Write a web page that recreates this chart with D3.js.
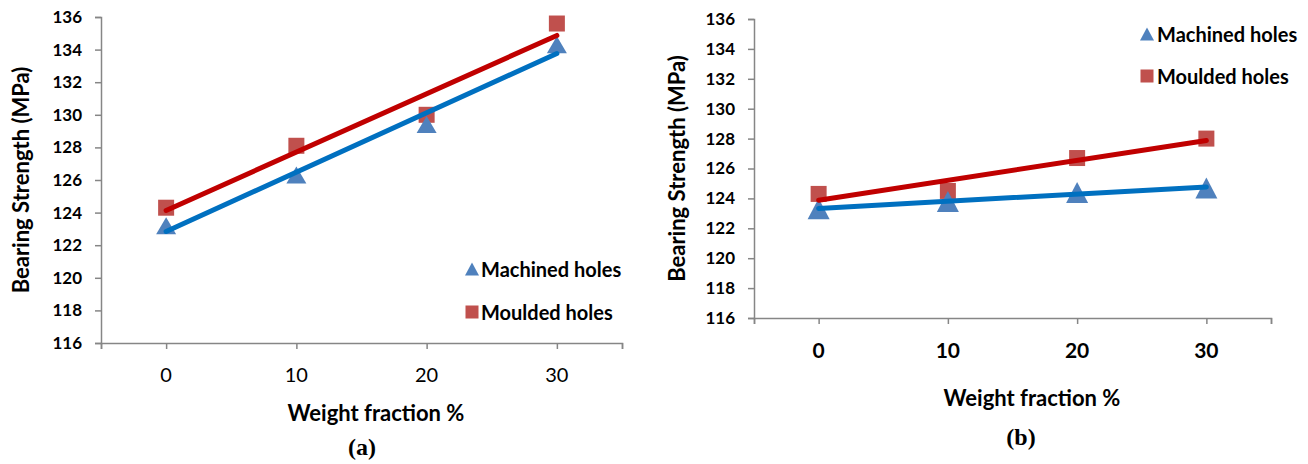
<!DOCTYPE html>
<html>
<head>
<meta charset="utf-8">
<script src="https://cdn.jsdelivr.net/npm/d3@7"></script>
<style>
  html, body { margin: 0; padding: 0; background: #fff; }
  svg { display: block; }
  text { font-family: Lato, "Open Sans", sans-serif; fill: #000; }
</style>
</head>
<body>
<svg id="chart" width="1308" height="464"></svg>
<script>
// Weight fraction of filler (%) on the horizontal axis
const weightFractions = [0, 10, 20, 30];
const xTickValues = [0, 10, 20, 30];
const yTickValues = [116, 118, 120, 122, 124, 126, 128, 130, 132, 134, 136];

// Bearing strength (MPa), panel (a)
const machinedA = [123.2, 126.3, 129.4, 134.3];
const mouldedA  = [124.3, 128.1, 130.0, 135.6];

// Bearing strength (MPa), panel (b)
const machinedB = [123.3, 123.8, 124.4, 124.7];
const mouldedB  = [124.3, 124.5, 126.7, 128.0];

const seriesNames = ["Machined holes", "Moulded holes"];

const svg = d3.select("#chart");

// least-squares linear fit, as used for the trendlines
function linearFit(xs, ys) {
  const mx = d3.mean(xs), my = d3.mean(ys);
  const sxy = d3.sum(xs, (x, i) => (x - mx) * (ys[i] - my));
  const sxx = d3.sum(xs, x => (x - mx) * (x - mx));
  const slope = sxy / sxx;
  return { slope, intercept: my - slope * mx };
}

const panels = [
  {
    machined: machinedA, moulded: mouldedA,
    xr: [101, 622], yr: [343, 17],
    xTick: { bold: false, size: 20, y: 374 },
    tri: [20, 17], sq: 16,
    yTitleX: 20, xTitle: { x: 376, y: 412 },
    caption: { text: "(a)", x: 362, y: 447 },
    legend: { x: 472, textX: 481, y: [269, 312] }
  },
  {
    machined: machinedB, moulded: mouldedB,
    xr: [754, 1271], yr: [318, 19],
    xTick: { bold: true, size: 21, y: 349 },
    tri: [22, 21], sq: 16,
    yTitleX: 676, xTitle: { x: 1032, y: 397 },
    caption: { text: "(b)", x: 1021, y: 437 },
    legend: { x: 1147, textX: 1157, y: [34, 76] }
  }
];

const triColor = "#4F81BD", sqColor = "#C0504D";
const lineBlue = "#0070C0", lineRed = "#C00000";
const axisColor = "#868686";

function trianglePath(w, h) {
  return `M0,${-h / 2}L${w / 2},${h / 2}L${-w / 2},${h / 2}Z`;
}

panels.forEach(p => {
  const x = d3.scaleLinear().domain([-5, 35]).range(p.xr);
  const y = d3.scaleLinear().domain([116, 136]).range(p.yr);
  const g = svg.append("g");

  // y axis
  const yAxis = g.append("g")
    .attr("transform", `translate(${p.xr[0]},0)`)
    .call(d3.axisLeft(y).tickValues(yTickValues).tickSize(6).tickPadding(13).tickFormat(d3.format("d")));
  yAxis.select(".domain").attr("stroke", axisColor).attr("stroke-width", 1.5);
  yAxis.selectAll(".tick line").attr("stroke", axisColor).attr("stroke-width", 1.5);
  yAxis.selectAll(".tick text")
    .style("font-family", "Lato, sans-serif").style("font-size", "17px").style("font-weight", "bold")
    .attr("fill", "#000");

  // x axis
  const xAxis = g.append("g")
    .attr("transform", `translate(0,${p.yr[0]})`)
    .call(d3.axisBottom(x).tickValues([-5].concat(xTickValues, [35])).tickSize(6).tickFormat(""));
  xAxis.select(".domain").attr("stroke", axisColor).attr("stroke-width", 1.5);
  xAxis.selectAll(".tick line").attr("stroke", axisColor).attr("stroke-width", 1.5);
  xAxis.selectAll(".tick text").remove();

  g.selectAll(".xlab").data(xTickValues).join("text")
    .attr("x", d => x(d)).attr("y", p.xTick.y)
    .attr("text-anchor", "middle").attr("dominant-baseline", "central")
    .style("font-size", p.xTick.size + "px").style("font-weight", p.xTick.bold ? "bold" : "normal")
    .text(d => d);

  // titles
  g.append("text")
    .attr("transform", `translate(${p.yTitleX},${(p.yr[0] + p.yr[1]) / 2}) rotate(-90)`)
    .attr("text-anchor", "middle").attr("dominant-baseline", "central")
    .style("font-size", "22px").style("font-weight", "bold")
    .text("Bearing Strength (MPa)");

  g.append("text")
    .attr("x", p.xTitle.x).attr("y", p.xTitle.y)
    .attr("text-anchor", "middle").attr("dominant-baseline", "central")
    .style("font-size", "22px").style("font-weight", "bold")
    .text("Weight fraction %");

  g.append("text")
    .attr("x", p.caption.x).attr("y", p.caption.y)
    .attr("text-anchor", "middle").attr("dominant-baseline", "central")
    .style("font-family", "'Liberation Serif', 'Times New Roman', serif")
    .style("font-size", "24px").style("font-weight", "bold")
    .text(p.caption.text);

  // markers
  g.selectAll(".sq").data(weightFractions).join("rect")
    .attr("x", (d) => x(d) - p.sq / 2)
    .attr("y", (d, i) => y(p.moulded[i]) - p.sq / 2)
    .attr("width", p.sq).attr("height", p.sq)
    .attr("fill", sqColor);

  g.selectAll(".tri").data(weightFractions).join("path")
    .attr("transform", (d, i) => `translate(${x(d)},${y(p.machined[i])})`)
    .attr("d", trianglePath(p.tri[0], p.tri[1]))
    .attr("fill", triColor);

  // linear trendlines over the data range
  const line = d3.line().x(d => x(d[0])).y(d => y(d[1]));
  [[p.machined, lineBlue], [p.moulded, lineRed]].forEach(([vals, col]) => {
    const f = linearFit(weightFractions, vals);
    const x0 = d3.min(weightFractions), x1 = d3.max(weightFractions);
    g.append("path")
      .datum([[x0, f.intercept + f.slope * x0], [x1, f.intercept + f.slope * x1]])
      .attr("d", line)
      .attr("fill", "none").attr("stroke", col)
      .attr("stroke-width", 5).attr("stroke-linecap", "round");
  });

  // legend
  const lg = g.append("g");
  lg.append("path")
    .attr("transform", `translate(${p.legend.x},${p.legend.y[0]})`)
    .attr("d", trianglePath(14, 13)).attr("fill", triColor);
  lg.append("rect")
    .attr("x", p.legend.x - 6.5).attr("y", p.legend.y[1] - 6.5)
    .attr("width", 13).attr("height", 13).attr("fill", sqColor);
  seriesNames.forEach((name, i) => {
    lg.append("text")
      .attr("x", p.legend.textX).attr("y", p.legend.y[i])
      .attr("dominant-baseline", "central")
      .style("font-size", "20px").style("font-weight", "bold")
      .text(name);
  });
});
</script>
</body>
</html>
